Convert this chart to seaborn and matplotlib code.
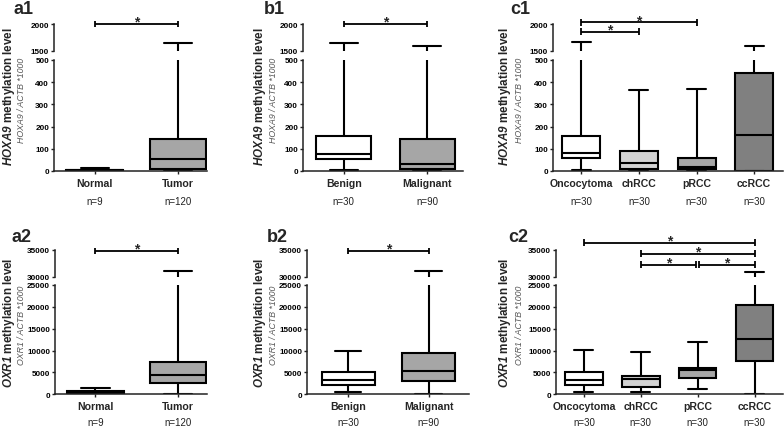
import numpy as np
import pandas as pd
import matplotlib
matplotlib.use("Agg")
import matplotlib.pyplot as plt
import seaborn as sns

# ---------------- data ----------------
cats_a = ["Normal", "Tumor"]
n_a = ["n=9", "n=120"]
cats_b = ["Benign", "Malignant"]
n_b = ["n=30", "n=90"]
cats_c = ["Oncocytoma", "chRCC", "pRCC", "ccRCC"]
n_c = ["n=30", "n=30", "n=30", "n=30"]

# five-number summaries per category: [min, Q1, median, Q3, max]
hoxa9_a = [[0, 1, 3, 6, 13], [0, 9, 52, 144, 1656]]
hoxa9_b = [[4, 54, 78, 157, 1656], [0, 9, 33, 144, 1594]]
hoxa9_c = [[6, 57, 81, 159, 1661], [0, 9, 34, 91, 365],
           [2, 9, 20, 58, 371], [0, 2, 162, 443, 1601]]
oxr1_a = [[0, 80, 380, 840, 1520], [0, 2515, 4340, 7300, 31000]]
oxr1_b = [[460, 2130, 3280, 5100, 9980], [0, 3050, 5410, 9450, 30990]]
oxr1_c = [[535, 2140, 3210, 5120, 10090], [535, 1760, 3520, 4130, 9710],
          [1220, 3750, 5580, 6040, 11930], [0, 7650, 12540, 20410, 30915]]

# significance comparisons: (from index, to index, level)
sig_a1 = [(0, 1, 2000)]
sig_b1 = [(0, 1, 2000)]
sig_c1 = [(0, 2, 2029), (0, 1, 1857)]
sig_a2 = [(0, 1, 34800)]
sig_b2 = [(0, 1, 34800)]
sig_c2 = [(0, 3, 36300), (1, 3, 34260), (1, 2, 32220), (2, 3, 32220)]

col_a = ["#d9d9d9", "#a6a6a6"]
col_b = ["#ffffff", "#a6a6a6"]
col_c = ["#ffffff", "#d3d3d3", "#a6a6a6", "#808080"]

# ---------------- style ----------------
sns.set_theme(style="ticks")
plt.rcParams["font.family"] = ["Liberation Sans", "DejaVu Sans"]
plt.rcParams["mathtext.fontset"] = "custom"
plt.rcParams["mathtext.rm"] = "Liberation Sans"
plt.rcParams["mathtext.it"] = "Liberation Sans:italic"
plt.rcParams["mathtext.bf"] = "Liberation Sans:bold"
plt.rcParams["mathtext.bfit"] = "Liberation Sans:bold:italic"

W, H = 784, 427
fig = plt.figure(figsize=(W / 100, H / 100), dpi=100)

SPINE = "#222222"


def rect(x0, x1, ytop, ybot):
    return [x0 / W, 1 - ybot / H, (x1 - x0) / W, (ybot - ytop) / H]


def panel(xs, upper_px, lower_px, cats, summ, cols, lo_lim, up_lim,
          lo_ticks, up_ticks, xlim, nlab, noff, sigs, width):
    axu = fig.add_axes(rect(xs[0], xs[1], upper_px[0], upper_px[1]))
    axl = fig.add_axes(rect(xs[0], xs[1], lower_px[0], lower_px[1]))
    rows = []
    for c, s in zip(cats, summ):
        for v in s:
            rows.append({"cat": c, "val": v})
    df = pd.DataFrame(rows)
    for ax in (axu, axl):
        sns.boxplot(data=df, x="cat", y="val", hue="cat", order=cats,
                    hue_order=cats, palette=cols, legend=False,
                    whis=(0, 100), width=width, showfliers=False,
                    linecolor="black", linewidth=1.5, ax=ax)
        ax.set_xlim(*xlim)
        ax.set_xlabel("")
        ax.set_ylabel("")
        for sp in ("top", "right"):
            ax.spines[sp].set_visible(False)
        ax.spines["left"].set_linewidth(1.1)
        ax.spines["left"].set_color(SPINE)
        ax.spines["bottom"].set_linewidth(1.1)
        ax.spines["bottom"].set_color(SPINE)
        ax.tick_params(axis="y", direction="out", length=2.5, width=1.0,
                       color=SPINE, pad=1.0)
        ax.patch.set_alpha(0)
    axu.set_ylim(*up_lim)
    axu.set_yticks(up_ticks)
    axu.spines["bottom"].set_visible(False)
    axu.tick_params(axis="x", bottom=False, labelbottom=False)
    axl.set_ylim(*lo_lim)
    axl.set_yticks(lo_ticks)
    for ax in (axu, axl):
        ax.set_yticklabels([str(t) for t in ax.get_yticks().astype(int)],
                           fontweight="bold", fontsize=5.9, color="black")
    axl.set_xticks(range(len(cats)))
    axl.set_xticklabels(cats, fontweight="bold", fontsize=7.6)
    axl.tick_params(axis="x", direction="out", length=2.5, width=1.0,
                    color=SPINE, pad=2.5)
    for i, n in enumerate(nlab):
        axl.annotate(n, xy=(i, 0), xycoords=("data", "axes fraction"),
                     xytext=(0, -noff), textcoords="offset pixels",
                     ha="center", va="center", fontsize=7, color="#222222")
    # significance bars
    cap = (up_lim[1] - up_lim[0]) * 0.12
    for (i, j, lvl) in sigs:
        gap = 0.025
        x1 = i + (gap if any(s[1] == i and s[2] == lvl for s in sigs) else 0)
        x2 = j - (gap if any(s[0] == j and s[2] == lvl for s in sigs) else 0)
        axu.plot([x1, x2], [lvl, lvl], color="black", lw=1.3, clip_on=False,
                 solid_capstyle="butt")
        for xx in (x1, x2):
            axu.plot([xx, xx], [lvl - cap, lvl + cap], color="black", lw=1.3,
                     clip_on=False, solid_capstyle="butt")
        axu.annotate("*", xy=((x1 + x2) / 2, lvl), xycoords="data",
                     xytext=(0, -3.5), textcoords="offset points",
                     ha="center", va="bottom", fontsize=10, fontweight="bold",
                     annotation_clip=False)
    return axu, axl


row1_up = (25, 52)
row1_lo = (61, 172)
row2_up = (250.7, 277.7)
row2_lo = (286, 395.3)
lo1 = [0, 100, 200, 300, 400, 500]
up1 = [1500, 2000]
lo2 = [0, 5000, 10000, 15000, 20000, 25000]
up2 = [30000, 35000]

panel((54, 207), row1_up, row1_lo, cats_a, hoxa9_a, col_a, (0, 500),
      (1500, 2000), lo1, up1, (-0.49, 1.35), n_a, 30, sig_a1, 0.68)
panel((303, 463), row1_up, row1_lo, cats_b, hoxa9_b, col_b, (0, 500),
      (1500, 2000), lo1, up1, (-0.49, 1.43), n_b, 30, sig_b1, 0.66)
panel((553, 783), row1_up, row1_lo, cats_c, hoxa9_c, col_c, (0, 500),
      (1500, 2000), lo1, up1, (-0.49, 3.5), n_c, 30, sig_c1, 0.66)
panel((55, 207), row2_up, row2_lo, cats_a, oxr1_a, col_a, (0, 25000),
      (30000, 35000), lo2, up2, (-0.49, 1.35), n_a, 28, sig_a2, 0.68)
panel((307, 469), row2_up, row2_lo, cats_b, oxr1_b, col_b, (0, 25000),
      (30000, 35000), lo2, up2, (-0.51, 1.5), n_b, 28, sig_b2, 0.66)
panel((556, 783), row2_up, row2_lo, cats_c, oxr1_c, col_c, (0, 25000),
      (30000, 35000), lo2, up2, (-0.49, 3.5), n_c, 28, sig_c2, 0.66)

# y labels (bold x, grey x)
ylab_x = [(9, 22), (260, 273), (505, 520)]
for (xb, xg) in ylab_x:
    fig.text(xb / W, 1 - 97 / H, r"$\mathbfit{HOXA9}$ methylation level",
             rotation=90, ha="center", va="center", fontsize=8.4,
             fontweight="bold")
    fig.text(xg / W, 1 - 100 / H, "HOXA9 / ACTB *1000", rotation=90,
             ha="center", va="center", fontsize=6.3, style="italic",
             color="#555555")
    fig.text(xb / W, 1 - 323 / H, r"$\mathbfit{OXR1}$ methylation level",
             rotation=90, ha="center", va="center", fontsize=8.4,
             fontweight="bold")
    fig.text(xg / W, 1 - 325 / H, "OXR1 / ACTB *1000", rotation=90,
             ha="center", va="center", fontsize=6.3, style="italic",
             color="#555555")

# panel labels
for txt, x, y in [("a1", 13, 14), ("b1", 264, 14), ("c1", 510, 14),
                  ("a2", 12, 242), ("b2", 267, 242), ("c2", 508, 242)]:
    fig.text(x / W, 1 - y / H, txt, fontsize=13, fontweight="bold",
             ha="left", va="baseline")

fig.savefig("out.png", dpi=100)
